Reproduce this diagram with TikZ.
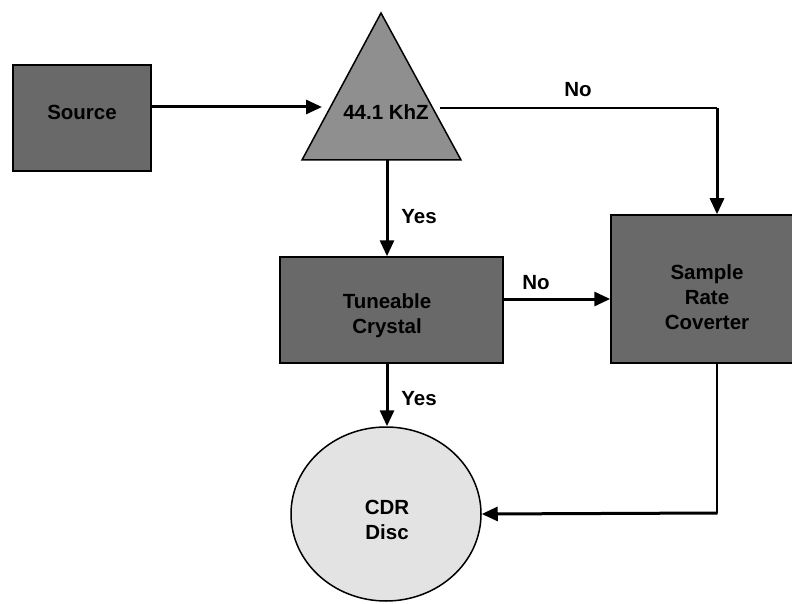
\documentclass[tikz,border=0pt]{standalone}
\usepackage{fontspec}
\setmainfont{Liberation Sans}
\usetikzlibrary{arrows.meta,shapes.geometric}
\definecolor{boxgray}{HTML}{696969}
\definecolor{trigray}{HTML}{8F8F8F}
\definecolor{discgray}{HTML}{E3E3E3}
\begin{document}
\begin{tikzpicture}[x=1pt,y=-1pt,
  txt/.style={font=\bfseries\fontsize{20.5}{25}\selectfont, align=center, inner sep=0pt},
  box/.style={draw=black, line width=1.5pt, fill=boxgray, inner sep=0pt},
  lbl/.style={txt},
  arr/.style={line width=3pt, -{Triangle[length=16pt,width=14pt]}},
  thinline/.style={line width=1.3pt}]
\useasboundingbox (0,0) rectangle (792,604);
% shapes
\node[box, minimum width=138pt, minimum height=106pt] (src) at (82,118) {};
\fill[trigray, draw=black, line width=1.5pt, line join=miter] (381,13) -- (461,160) -- (302,160) -- cycle;
\node[box, minimum width=223pt, minimum height=106pt] (tun) at (391.5,310) {};
\node[box, minimum width=192pt, minimum height=148pt] (rate) at (707,289) {};
\node[draw=black, line width=1.5pt, fill=discgray, ellipse, inner sep=0pt, minimum width=190pt, minimum height=174pt] (disc) at (386,514) {};
% texts
\node[txt] (srctxt) at (82,112) {Source};
\node[txt] (tri) at (386,112) {44.1 KhZ};
\node[txt] (tuntxt) at (387,316) {Tuneable\\Crystal};
\node[txt] (ratetxt) at (707,297) {Sample\\Rate\\Coverter};
\node[txt] (disctxt) at (387,520) {CDR\\Disc};
% coordinates
\coordinate (tin) at (322,107);
\coordinate (tout) at (440,108);
\coordinate (tbot) at (387,160);
\coordinate (k1) at (717,108);
\coordinate (k3) at (717,513);
\coordinate (k4) at (503,299);
% connectors
\draw[arr] (src.east |- tin) -- (tin);
\draw[thinline] (tout) -- (k1);
\draw[arr] (k1) -- (k1 |- rate.north);
\draw[arr] (tbot) -- (tbot |- tun.north);
\draw[arr] (k4) -- (k4 -| rate.west);
\draw[arr] (tbot |- tun.south) -- (tbot |- disc.north);
\draw[thinline] (k1 |- rate.south) -- (k3);
\draw[arr] ([xshift=0.7pt]k3) -- (disc.east);
% labels
\node[lbl] (l1) at (578,90) {No};
\node[lbl] (l2) at (536,283) {No};
\node[lbl] (l3) at (419,217) {Yes};
\node[lbl] (l4) at (419,399) {Yes};
\end{tikzpicture}
\end{document}
